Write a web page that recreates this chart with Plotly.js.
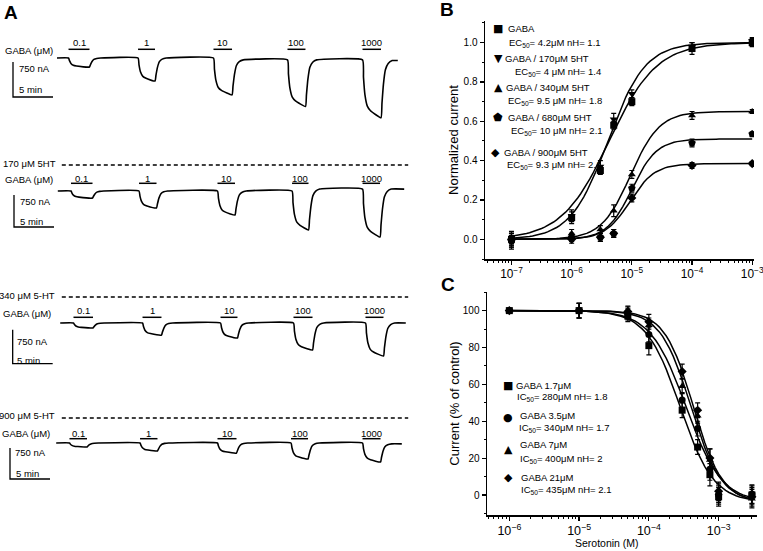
<!DOCTYPE html>
<html><head><meta charset="utf-8">
<script src="https://cdn.plot.ly/plotly-3.0.1.min.js"></script>
<style>html,body{margin:0;padding:0;background:#fff}#chart{width:763px;height:551px}</style>
</head><body><div id="chart"></div>
<script>
// ================= DATA =================
// ---- Panel A : two-electrode voltage-clamp recordings ----
const pulseLabels = ['0.1', '1', '10', '100', '1000'];          // GABA (µM)
const rowSerotonin = ['', '170 μM 5HT', '340 μM 5-HT', '900 μM 5-HT'];
// application onset / offset (min), peak inward current (nA), holding level (nA)
const onsetCtrl  = [1.44, 10.13, 19.56, 28.81, 38.19];
const offsetCtrl = [4.06, 12.25, 21.88, 31.06, 40.5];
const ampCtrl    = [193, 493, 790, 1000, 1240];
const holdCtrl   = [0, 0, 0, -40, -40, -55];
const spanCtrl   = [0, 42.6];

const onset170  = [1.75, 10.25, 20.06, 29.38, 38.19];
const offset170 = [4.44, 12.44, 22.25, 31.44, 40.38];
const amp170    = [164, 398, 563, 914, 1125];
const hold170   = [0, 0, 0, 0, 45, 45];
const span170   = [0.1, 43.4];

const onset340  = [2.06, 10.69, 20.44, 29.56, 38.56];
const offset340 = [4.5, 13.06, 22.56, 31.94, 40.81];
const amp340    = [110, 265, 331, 596, 728];
const hold340   = [0, 0, 0, 0, 0, 0];
const span340   = [0.4, 43.6];

const onset900  = [1.56, 10.38, 20.06, 29.25, 38.19];
const offset900 = [3.75, 12.56, 22.44, 31.38, 40.44];
const amp900    = [97, 194, 242, 387, 460];
const hold900   = [0, 0, 0, 0, 0, -20];
const span900   = [-0.1, 43.1];

const serotoninSpan = [0.6, 43.9];    // min
const scaleBarNA = 750, scaleBarMin = 5;

// ---- Panel B : GABA concentration-response ----
const gabaM = [1e-7, 1e-6, 3e-6, 5e-6, 1e-5, 1e-4, 1e-3];
const bNames = ['GABA', 'GABA / 170μM 5HT', 'GABA / 340μM 5HT', 'GABA / 680μM 5HT', 'GABA / 900μM 5HT'];
const bFitText = ['EC<sub>50</sub>= 4.2μM nH= 1.1', 'EC<sub>50</sub>= 4 μM nH= 1.4', 'EC<sub>50</sub>= 9.5 μM nH= 1.8',
                  'EC<sub>50</sub>= 10 μM nH= 2.1', 'EC<sub>50</sub>= 9.3 μM nH= 2.1'];
const bGaba  = [0.00, 0.11, 0.35, 0.58, 0.70, 0.97, 1.00];
const b170   = [-0.01, 0.12, 0.37, 0.61, 0.74, 0.98, 1.01];
const b340   = [0.00, 0.03, 0.05, 0.145, 0.33, 0.63, 0.65];
const b680   = [-0.01, 0.01, 0.01, 0.03, 0.26, 0.49, 0.535];
const b900   = [0.00, 0.00, 0.01, 0.03, 0.21, 0.375, 0.385];
const bErrGaba = [0.04, 0.03, 0.02, 0.02, 0.02, 0.03, 0.02];
const bErr170  = [0.04, 0.03, 0.03, 0.03, 0.02, 0.02, 0.015];
const bErr340  = [0.03, 0.02, 0.02, 0.03, 0.02, 0.02, 0.01];
const bErr680  = [0.03, 0.02, 0.02, 0.02, 0.02, 0.02, 0.01];
const bErr900  = [0.03, 0.02, 0.02, 0.02, 0.02, 0.015, 0.01];
const bEC50 = [4.2e-6, 4e-6, 9.5e-6, 10e-6, 9.3e-6];
const bNH   = [1.1, 1.4, 1.8, 2.1, 2.1];
const bTop  = [1.0, 1.0, 0.65, 0.51, 0.385];

// ---- Panel C : serotonin inhibition ----
const serM = [1e-6, 1e-5, 5e-5, 1e-4, 3e-4, 5e-4, 7.5e-4, 1e-3, 3e-3];
const cNames = ['GABA 1.7μM', 'GABA 3.5μM', 'GABA 7μM', 'GABA 21μM'];
const cFitText = ['IC<sub>50</sub>= 280μM nH= 1.8', 'IC<sub>50</sub>= 340μM nH= 1.7',
                  'IC<sub>50</sub>= 400μM nH= 2', 'IC<sub>50</sub>= 435μM nH= 2.1'];
const c17  = [100, 100, 97, 81, 46, 26, 11, -1, 0];
const c35  = [100, 100, 98, 87, 51.5, 36, 14, 0, 0.5];
const c7   = [100, 100, 99, 92, 59, 43, 19, 1, -2];
const c21  = [100, 100, 99.5, 94, 67, 46, 20, 2, -1];
const cErr17 = [0, 4, 3, 5, 4, 4, 6, 5, 5];
const cErr35 = [0, 4, 3, 4, 4, 4, 6, 5, 5];
const cErr7  = [0, 4, 3, 4, 4, 4, 6, 5, 5];
const cErr21 = [0, 4, 3, 4, 4, 4, 5, 5, 5];
const cIC50 = [280e-6, 340e-6, 400e-6, 435e-6];
const cNH   = [1.8, 1.7, 2.0, 2.1];
const cTop = 100, cBottom = -4;

// ================= RENDER =================
const W = 763, H = 551;
const PX = x => x / W, PY = y => 1 - y / H;
const FONT = 'Liberation Sans, Arial, sans-serif';
const GLYPH = 'DejaVu Sans, sans-serif';
const BLACK = '#000';
const TXT = 9.5;

const traces = [];
const annotations = [];
const layout = {
  width: W, height: H, margin: {l: 0, r: 0, t: 0, b: 0},
  paper_bgcolor: '#fff', plot_bgcolor: 'rgba(0,0,0,0)',
  showlegend: false, font: {family: FONT, color: BLACK, size: 10},
  annotations
};

// ---------- Panel A ----------
const rows = [
  {onset: onsetCtrl, offset: offsetCtrl, amp: ampCtrl, hold: holdCtrl, span: spanCtrl},
  {onset: onset170, offset: offset170, amp: amp170, hold: hold170, span: span170},
  {onset: onset340, offset: offset340, amp: amp340, hold: hold340, span: span340},
  {onset: onset900, offset: offset900, amp: amp900, hold: hold900, span: span900},
];
// layout geometry (pixels)
const rowGeom = [
  {top: 0,   bottom: 140, base: 58,  bar: 35, sbX: -5.5,  sbOff: 4,   barOff: 8.7, lblOff: 15.5, dashOff: 0,
   gaba: [55, 50], ser: null, t750: [17, 68.5], t5: [17, 90]},
  {top: 140, bottom: 275, base: 191, bar: 32, sbX: -5.375, sbOff: 4,  barOff: 7.7, lblOff: 12.7, dashOff: 26,
   gaba: [55, 179.3], ser: [58, 163.3], t750: [18, 201.7], t5: [18, 221.7]},
  {top: 275, bottom: 405, base: 323, bar: 34, sbX: -5.54, sbOff: 6.7, barOff: 5.7, lblOff: 12.7, dashOff: 26,
   gaba: [53, 313.3], ser: [57, 295], t750: [15, 341], t5: [15, 360.7]},
  {top: 405, bottom: 551, base: 443, bar: 31, sbX: -5.875, sbOff: 5,  barOff: 4.3, lblOff: 9.8, dashOff: 25,
   gaba: [52, 433.3], ser: [57, 415], t750: [13, 452.7], t5: [14, 473.3]},
];
const riseShape  = [[0, 0], [0.12, 0.3], [0.3, 0.6], [0.6, 0.8], [1.0, 0.88]];
const decayShape = [[0.12, 0.75], [0.3, 0.42], [0.55, 0.16], [0.9, 0.05], [1.4, 0]];

function buildWave(r) {
  const x = [r.span[0]], y = [r.hold[0]];
  for (let i = 0; i < r.onset.length; i++) {
    const b = r.hold[i], bn = r.hold[i + 1], A = r.amp[i], t0 = r.onset[i], t1 = r.offset[i];
    riseShape.forEach(([dt, f]) => { x.push(t0 + dt); y.push(b - f * A); });
    x.push(t1); y.push(b - A);
    decayShape.forEach(([dt, f]) => { x.push(t1 + dt); y.push(bn - f * (bn - b + A)); });
  }
  x.push(r.span[1]); y.push(r.hold[r.hold.length - 1]);
  return {x, y};
}

const pxPerMin = 8, xLeftPx = 57, aRightPx = 420;
rows.forEach((r, i) => {
  const g = rowGeom[i];
  const k = scaleBarNA / g.bar;            // nA per pixel
  const n = i + 3;
  const xa = 'x' + n, ya = 'y' + n;
  layout['xaxis' + n] = {domain: [0, PX(aRightPx)], range: [-xLeftPx / pxPerMin, (aRightPx - xLeftPx) / pxPerMin],
    visible: false, fixedrange: true, anchor: ya};
  layout['yaxis' + n] = {domain: [PY(g.bottom), PY(g.top)], range: [-(g.bottom - g.base) * k, (g.base - g.top) * k],
    visible: false, fixedrange: true, anchor: xa};
  const w = buildWave(r);
  traces.push({type: 'scatter', mode: 'lines', x: w.x, y: w.y, xaxis: xa, yaxis: ya, name: 'current',
    line: {color: BLACK, width: 1.6, shape: 'spline', smoothing: 0.4}, hoverinfo: 'skip'});
  // GABA application bars
  const bx = [], by = [];
  const barY = g.barOff * k + (r.hold[0]);
  r.onset.forEach((t0, j) => { bx.push(t0, r.offset[j], null); by.push(barY, barY, null); });
  traces.push({type: 'scatter', mode: 'lines', x: bx, y: by, xaxis: xa, yaxis: ya, name: 'GABA application',
    line: {color: BLACK, width: 1.5}, hoverinfo: 'skip'});
  r.onset.forEach((t0, j) => annotations.push({xref: xa, yref: ya, x: (t0 + r.offset[j]) / 2, y: g.lblOff * k,
    text: pulseLabels[j], showarrow: false, xanchor: 'center', yanchor: 'middle', font: {family: FONT, size: TXT}}));
  // serotonin application (dashed)
  if (g.ser) {
    traces.push({type: 'scatter', mode: 'lines', x: serotoninSpan, y: [g.dashOff * k, g.dashOff * k], xaxis: xa, yaxis: ya,
      name: '5-HT', line: {color: BLACK, width: 1.4, dash: '4px,3px'}, hoverinfo: 'skip'});
    annotations.push({xref: 'paper', yref: 'paper', x: PX(g.ser[0]), y: PY(g.ser[1]), text: rowSerotonin[i],
      showarrow: false, xanchor: 'right', yanchor: 'middle', font: {family: FONT, size: TXT}});
  }
  // scale bar
  const sTop = -g.sbOff * k, sBot = sTop - scaleBarNA;
  traces.push({type: 'scatter', mode: 'lines', x: [g.sbX, g.sbX, g.sbX + scaleBarMin], y: [sTop, sBot, sBot],
    xaxis: xa, yaxis: ya, name: 'scale', line: {color: BLACK, width: 1.3}, hoverinfo: 'skip'});
  annotations.push({xref: 'paper', yref: 'paper', x: PX(g.t750[0]), y: PY(g.t750[1]), text: scaleBarNA + ' nA',
    showarrow: false, xanchor: 'left', yanchor: 'middle', font: {family: FONT, size: TXT}});
  annotations.push({xref: 'paper', yref: 'paper', x: PX(g.t5[0]), y: PY(g.t5[1]), text: scaleBarMin + ' min',
    showarrow: false, xanchor: 'left', yanchor: 'middle', font: {family: FONT, size: TXT}});
  annotations.push({xref: 'paper', yref: 'paper', x: PX(g.gaba[0]), y: PY(g.gaba[1]), text: 'GABA (μM)',
    showarrow: false, xanchor: 'right', yanchor: 'middle', font: {family: FONT, size: TXT}});
});

// ---------- shared axis style ----------
function axisStyle(extra) {
  return Object.assign({
    showline: true, linewidth: 1.5, linecolor: BLACK, mirror: false,
    ticks: 'outside', ticklen: 4, tickwidth: 1.2, tickcolor: BLACK,
    showgrid: false, zeroline: false, fixedrange: true, ticklabeloverflow: 'allow',
    tickfont: {family: FONT, size: 10, color: BLACK}
  }, extra);
}

// ---------- Panel B ----------
layout.xaxis = axisStyle({domain: [PX(485), PX(754)], anchor: 'y', type: 'log', range: [-7.44, -2.97],
  dtick: 1, exponentformat: 'power', showexponent: 'all',
  tickfont: {family: FONT, size: 9.5, color: BLACK},
  minor: {ticks: 'outside', ticklen: 2, tickwidth: 1, tickcolor: BLACK, dtick: 'D1'}});
layout.yaxis = axisStyle({domain: [PY(259), PY(21)], anchor: 'x', range: [-0.1, 1.11], dtick: 0.2, tick0: 0,
  tickformat: '.1f', minor: {ticks: 'outside', ticklen: 2, tickwidth: 1, tickcolor: BLACK, dtick: 0.1},
  title: {text: 'Normalized current', font: {family: FONT, size: 13, color: BLACK}, standoff: 2}});

const bSeries = [bGaba, b170, b340, b680, b900];
const bErrs = [bErrGaba, bErr170, bErr340, bErr680, bErr900];
const bSymbols = ['square', 'triangle-down', 'triangle-up', 'pentagon', 'diamond'];
const bGlyphs = ['■', '▼', '▲', '⬟', '◆'];
const fitXB = [];
for (let e = -7; e <= -3.0001; e += 0.05) fitXB.push(Math.pow(10, e));
fitXB.push(1e-3);
bSeries.forEach((s, i) => {
  traces.push({type: 'scatter', mode: 'lines', x: fitXB, name: bNames[i] + ' fit',
    y: fitXB.map(c => bTop[i] / (1 + Math.pow(bEC50[i] / c, bNH[i]))),
    line: {color: BLACK, width: 1.5}, hoverinfo: 'skip', xaxis: 'x', yaxis: 'y'});
  traces.push({type: 'scatter', mode: 'markers', x: gabaM, y: s, name: bNames[i], xaxis: 'x', yaxis: 'y',
    marker: {symbol: bSymbols[i], size: i === 3 ? 8 : 7, color: BLACK},
    error_y: {type: 'data', array: bErrs[i], visible: true, thickness: 1.2, width: 2.5, color: BLACK}});
});
// legend B (text)
const bGlyphPos = [[498, 29], [498, 58], [498, 88], [498, 117], [495, 152]];
const bNamePos = [[506, 29], [503, 58], [504, 88], [506, 117], [502, 152]];
const bFitPos = [[507, 43], [513, 72], [506, 101], [509, 131], [505, 165]];
bNames.forEach((nm, i) => {
  annotations.push({xref: 'paper', yref: 'paper', x: PX(bGlyphPos[i][0]), y: PY(bGlyphPos[i][1]), text: bGlyphs[i],
    showarrow: false, xanchor: 'center', yanchor: 'middle', font: {family: GLYPH, size: 11}});
  annotations.push({xref: 'paper', yref: 'paper', x: PX(bNamePos[i][0]), y: PY(bNamePos[i][1]), text: nm,
    showarrow: false, xanchor: 'left', yanchor: 'middle', font: {family: FONT, size: TXT}});
  annotations.push({xref: 'paper', yref: 'paper', x: PX(bFitPos[i][0]), y: PY(bFitPos[i][1]), text: bFitText[i],
    showarrow: false, xanchor: 'left', yanchor: 'middle', font: {family: FONT, size: TXT}});
});

// ---------- Panel C ----------
layout.xaxis2 = axisStyle({domain: [PX(487), PX(757)], anchor: 'y2', type: 'log', range: [-6.32, -2.45],
  dtick: 1, exponentformat: 'power', showexponent: 'all',
  minor: {ticks: 'outside', ticklen: 2, tickwidth: 1, tickcolor: BLACK, dtick: 'D1'}});
layout.yaxis2 = axisStyle({domain: [PY(515), PY(292)], anchor: 'x2', range: [-10.85, 110.1], dtick: 20, tick0: 0,
  minor: {ticks: 'outside', ticklen: 2, tickwidth: 1, tickcolor: BLACK, dtick: 10},
  title: {text: 'Current (% of control)', font: {family: FONT, size: 13, color: BLACK}, standoff: 0}});
// x-axis title of panel C (sits left of the axis centre in the reference)
annotations.push({xref: 'paper', yref: 'paper', x: PX(607), y: PY(543), text: 'Serotonin (M)', showarrow: false,
  xanchor: 'center', yanchor: 'middle', font: {family: FONT, size: 10.5, color: BLACK}});

const cSeries = [c17, c35, c7, c21];
const cErrs = [cErr17, cErr35, cErr7, cErr21];
const cSymbols = ['square', 'circle', 'triangle-up', 'diamond'];
const cGlyphs = ['■', '●', '▲', '◆'];
const fitXC = [];
for (let e = -6; e <= Math.log10(3e-3) + 1e-9; e += 0.05) fitXC.push(Math.pow(10, e));
fitXC.push(3e-3);
cSeries.forEach((s, i) => {
  traces.push({type: 'scatter', mode: 'lines', x: fitXC, name: cNames[i] + ' fit',
    y: fitXC.map(c => cBottom + (cTop - cBottom) / (1 + Math.pow(c / cIC50[i], cNH[i]))),
    line: {color: BLACK, width: 1.5}, hoverinfo: 'skip', xaxis: 'x2', yaxis: 'y2'});
  traces.push({type: 'scatter', mode: 'markers', x: serM, y: s, name: cNames[i], xaxis: 'x2', yaxis: 'y2',
    marker: {symbol: cSymbols[i], size: 7, color: BLACK},
    error_y: {type: 'data', array: cErrs[i], visible: true, thickness: 1.2, width: 2.5, color: BLACK}});
});
const cGlyphPos = [[508, 385], [508, 417], [508, 449], [508, 477]];
const cNamePos = [[514, 385], [518, 415], [518, 444], [519, 477]];
const cFitPos = [[515, 397], [517, 428], [518, 459], [519, 490]];
cNames.forEach((nm, i) => {
  annotations.push({xref: 'paper', yref: 'paper', x: PX(cGlyphPos[i][0]), y: PY(cGlyphPos[i][1]), text: cGlyphs[i],
    showarrow: false, xanchor: 'center', yanchor: 'middle', font: {family: GLYPH, size: 11}});
  annotations.push({xref: 'paper', yref: 'paper', x: PX(cNamePos[i][0]), y: PY(cNamePos[i][1]), text: nm,
    showarrow: false, xanchor: 'left', yanchor: 'middle', font: {family: FONT, size: TXT}});
  annotations.push({xref: 'paper', yref: 'paper', x: PX(cFitPos[i][0]), y: PY(cFitPos[i][1]), text: cFitText[i],
    showarrow: false, xanchor: 'left', yanchor: 'middle', font: {family: FONT, size: TXT}});
});

// ---------- panel letters ----------
[['A', 11, 12], ['B', 447, 10], ['C', 448, 284]].forEach(([t, x, y]) => annotations.push({
  xref: 'paper', yref: 'paper', x: PX(x), y: PY(y), text: '<b>' + t + '</b>', showarrow: false,
  xanchor: 'center', yanchor: 'middle', font: {family: FONT, size: 19, color: BLACK}}));

Plotly.newPlot('chart', traces, layout, {staticPlot: true, displayModeBar: false});
</script>
</body></html>
